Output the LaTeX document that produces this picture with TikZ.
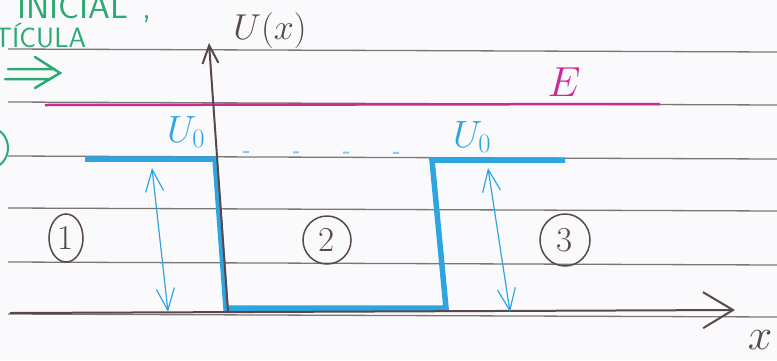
\RequirePackage{fix-cm}
\documentclass[tikz,border=0pt]{standalone}
\usepackage{amssymb,amsmath}
\usepackage{tikz}
\usetikzlibrary{positioning}
\usetikzlibrary{arrows.meta}
\usetikzlibrary{shapes.geometric}
\definecolor{paper}{RGB}{250,250,252}
\definecolor{ruleg}{RGB}{125,118,118}
\definecolor{axisc}{RGB}{88,72,74}
\definecolor{mmag}{RGB}{205,40,150}
\definecolor{mblue}{RGB}{45,165,225}
\definecolor{mgreen}{RGB}{45,170,115}
\tikzset{rule/.style = {draw=ruleg, line width=1.3pt}}
\tikzset{axis/.style = {draw=axisc, line width=2pt}}
\tikzset{well/.style = {draw=mblue, line width=5.5pt, line join=miter}}
\tikzset{dim/.style = {draw=mblue, line width=1.2pt,
                       {Straight Barb[length=22pt,width=18pt]}-{Straight Barb[length=22pt,width=18pt]}}}
\tikzset{region/.style = {draw=axisc, ellipse, line width=1.5pt, inner sep=0,
                          minimum width=48, minimum height=48, text=axisc,
                          font=\fontsize{35}{35}\selectfont}}
\tikzset{lbl/.style = {inner sep=0, font=\fontsize{36}{36}\selectfont}}
\tikzset{greentxt/.style = {inner sep=0, text=mgreen, anchor=base west,
                            font=\sffamily\fontsize{28}{28}\selectfont}}

\begin{document}
\begin{tikzpicture}[x=1pt, y=-1pt]
  \useasboundingbox (0,0) rectangle (777,360);
  \clip (0,0) rectangle (777,360);
  \fill[paper] (0,0) rectangle (777,360);
  % ruled paper
  \foreach \y in {49,102,156,208,262,314}
    \draw[rule] (8,\y) -- (777,\y+3);

  % green notes, cut off at the edge
  \node[greentxt, font=\sffamily\fontsize{35}{35}\selectfont] (t1) at (17,18) {INICIAL\hspace{14pt},};
  \node[greentxt] (t2) at (-6,47) {TÍCULA};
  \draw[mgreen, line width=2.5pt, line cap=round]
    (8,69) -- (55,69)
    (5,79) -- (50,79)
    (35,57) -- (60,73) -- (35,88);
  \draw[mgreen, line width=2pt] (-10,148) ellipse (18 and 20);

  % energy level
  \coordinate (e0) at (45,105);
  \coordinate (e1) at (660,104);
  \draw[draw=mmag, line width=2.5pt] (e0) -- (e1);
  \node[lbl, text=mmag, font=\fontsize{42}{42}\selectfont] (E) at (564,82) {$E$};

  % potential
  \coordinate (p1) at (85,159);
  \coordinate (p2) at (215,159);
  \coordinate (p3) at (226,308);
  \coordinate (p4) at (446,308);
  \coordinate (p5) at (432,160);
  \coordinate (p6) at (565,160);
  \draw[well] (p1) -- (p2) -- (p3) -- (p4) -- (p5) -- (p6);
  \draw[mblue!60, line width=2pt, dash pattern=on 6pt off 44pt] (243,152) -- (420,153);
  \node[lbl, text=mblue, font=\fontsize{38}{38}\selectfont] (U0l) at (186,132) {$U_0$};
  \node[lbl, text=mblue, font=\fontsize{38}{38}\selectfont] (U0r) at (472,137) {$U_0$};

  % axes
  \coordinate (O) at (228,312);
  \coordinate (ytop) at (209,43);
  \coordinate (xl) at (10,313);
  \coordinate (xr) at (735,310);
  \draw[axis, -{Straight Barb[length=18pt,width=16pt]}] (O) -- (ytop);
  \draw[axis, -{Straight Barb[length=30pt,width=36pt]}] (xl) -- (xr);
  \node[lbl, text=axisc] (Ux) at (270,30) {$U(x)$};
  \node[lbl, text=axisc, font=\fontsize{44}{44}\selectfont] (x) at (760,340) {$x$};

  % heights of the steps
  \coordinate (la) at (152,168);
  \coordinate (lb) at (168,312);
  \coordinate (ra) at (488,168);
  \coordinate (rb) at (510,312);
  \draw[dim] (la) -- (lb);
  \draw[dim] (ra) -- (rb);

  % regions
  \node[region, minimum width=34] (r1) at (66,238) {1};
  \node[region] (r2) at (327,240) {2};
  \node[region, minimum width=50, minimum height=52] (r3) at (565,240) {3};
\end{tikzpicture}
\end{document}
